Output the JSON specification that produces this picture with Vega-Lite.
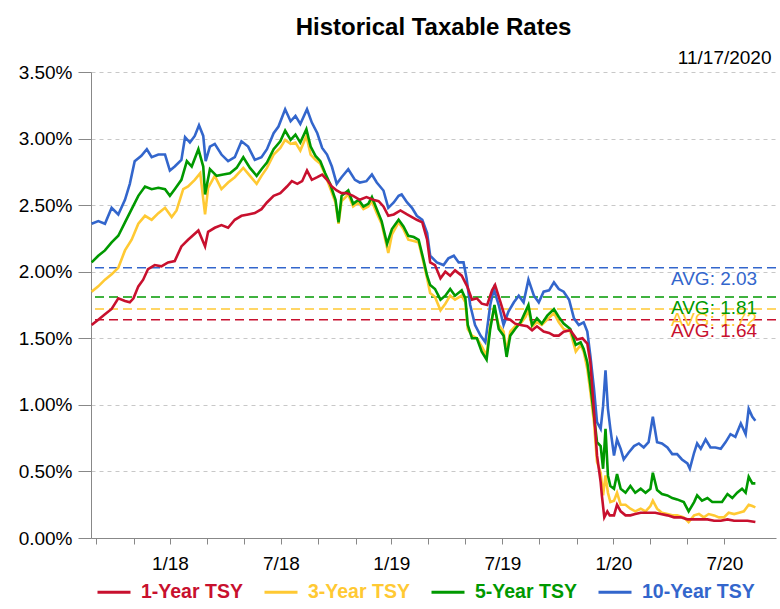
{
  "$schema": "https://vega.github.io/schema/vega-lite/v6.json",
  "width": 685,
  "height": 466,
  "autosize": {"type": "none"},
  "padding": {"left": 91, "top": 72, "right": 4, "bottom": 71},
  "background": "white",
  "config": {
    "font": "Liberation Sans",
    "view": {"stroke": null},
    "axis": {"labelFont": "Liberation Sans", "titleFont": "Liberation Sans"}
  },
  "title": {"text": "Historical Taxable Rates", "fontSize": 24, "fontWeight": "bold", "anchor": "middle", "color": "#000", "offset": 8, "font": "Liberation Sans"},
  "datasets": {
    "avg": [
      {"s": "10-Year TSY", "a": 2.03, "t": "AVG: 2.03"},
      {"s": "3-Year TSY", "a": 1.72, "t": "AVG: 1.72"},
      {"s": "5-Year TSY", "a": 1.81, "t": "AVG: 1.81"},
      {"s": "1-Year TSY", "a": 1.64, "t": "AVG: 1.64"}
    ],
    "rates": [
      {"d":"2017-11-23","s":"10-Year TSY","v":2.36},{"d":"2017-12-04","s":"10-Year TSY","v":2.38},{"d":"2017-12-15","s":"10-Year TSY","v":2.36},{"d":"2017-12-26","s":"10-Year TSY","v":2.48},{"d":"2018-01-06","s":"10-Year TSY","v":2.43},{"d":"2018-01-17","s":"10-Year TSY","v":2.54},{"d":"2018-01-25","s":"10-Year TSY","v":2.66},{"d":"2018-02-02","s":"10-Year TSY","v":2.83},{"d":"2018-02-13","s":"10-Year TSY","v":2.87},{"d":"2018-02-22","s":"10-Year TSY","v":2.92},{"d":"2018-03-02","s":"10-Year TSY","v":2.86},{"d":"2018-03-13","s":"10-Year TSY","v":2.88},{"d":"2018-03-24","s":"10-Year TSY","v":2.88},{"d":"2018-04-01","s":"10-Year TSY","v":2.76},{"d":"2018-04-09","s":"10-Year TSY","v":2.79},{"d":"2018-04-20","s":"10-Year TSY","v":2.84},{"d":"2018-04-26","s":"10-Year TSY","v":3.01},{"d":"2018-05-04","s":"10-Year TSY","v":2.97},{"d":"2018-05-12","s":"10-Year TSY","v":3.02},{"d":"2018-05-19","s":"10-Year TSY","v":3.10},{"d":"2018-05-26","s":"10-Year TSY","v":3.02},{"d":"2018-05-30","s":"10-Year TSY","v":2.83},{"d":"2018-06-06","s":"10-Year TSY","v":2.94},{"d":"2018-06-14","s":"10-Year TSY","v":2.96},{"d":"2018-06-25","s":"10-Year TSY","v":2.88},{"d":"2018-07-06","s":"10-Year TSY","v":2.83},{"d":"2018-07-17","s":"10-Year TSY","v":2.86},{"d":"2018-07-28","s":"10-Year TSY","v":2.98},{"d":"2018-08-08","s":"10-Year TSY","v":2.94},{"d":"2018-08-19","s":"10-Year TSY","v":2.84},{"d":"2018-08-30","s":"10-Year TSY","v":2.86},{"d":"2018-09-08","s":"10-Year TSY","v":2.92},{"d":"2018-09-19","s":"10-Year TSY","v":3.04},{"d":"2018-09-27","s":"10-Year TSY","v":3.09},{"d":"2018-10-08","s":"10-Year TSY","v":3.22},{"d":"2018-10-17","s":"10-Year TSY","v":3.13},{"d":"2018-10-25","s":"10-Year TSY","v":3.17},{"d":"2018-11-02","s":"10-Year TSY","v":3.11},{"d":"2018-11-13","s":"10-Year TSY","v":3.22},{"d":"2018-11-21","s":"10-Year TSY","v":3.12},{"d":"2018-11-30","s":"10-Year TSY","v":3.04},{"d":"2018-12-08","s":"10-Year TSY","v":2.93},{"d":"2018-12-16","s":"10-Year TSY","v":2.88},{"d":"2018-12-24","s":"10-Year TSY","v":2.79},{"d":"2019-01-01","s":"10-Year TSY","v":2.66},{"d":"2019-01-09","s":"10-Year TSY","v":2.71},{"d":"2019-01-20","s":"10-Year TSY","v":2.77},{"d":"2019-01-31","s":"10-Year TSY","v":2.69},{"d":"2019-02-08","s":"10-Year TSY","v":2.67},{"d":"2019-02-19","s":"10-Year TSY","v":2.68},{"d":"2019-02-28","s":"10-Year TSY","v":2.73},{"d":"2019-03-08","s":"10-Year TSY","v":2.67},{"d":"2019-03-19","s":"10-Year TSY","v":2.61},{"d":"2019-03-27","s":"10-Year TSY","v":2.48},{"d":"2019-04-05","s":"10-Year TSY","v":2.52},{"d":"2019-04-13","s":"10-Year TSY","v":2.57},{"d":"2019-04-18","s":"10-Year TSY","v":2.58},{"d":"2019-04-27","s":"10-Year TSY","v":2.52},{"d":"2019-05-05","s":"10-Year TSY","v":2.48},{"d":"2019-05-13","s":"10-Year TSY","v":2.42},{"d":"2019-05-22","s":"10-Year TSY","v":2.39},{"d":"2019-05-30","s":"10-Year TSY","v":2.29},{"d":"2019-06-04","s":"10-Year TSY","v":2.12},{"d":"2019-06-15","s":"10-Year TSY","v":2.07},{"d":"2019-06-26","s":"10-Year TSY","v":2.05},{"d":"2019-07-04","s":"10-Year TSY","v":2.10},{"d":"2019-07-13","s":"10-Year TSY","v":2.12},{"d":"2019-07-21","s":"10-Year TSY","v":2.07},{"d":"2019-07-29","s":"10-Year TSY","v":2.07},{"d":"2019-08-03","s":"10-Year TSY","v":1.95},{"d":"2019-08-09","s":"10-Year TSY","v":1.75},{"d":"2019-08-17","s":"10-Year TSY","v":1.60},{"d":"2019-08-26","s":"10-Year TSY","v":1.52},{"d":"2019-09-03","s":"10-Year TSY","v":1.47},{"d":"2019-09-11","s":"10-Year TSY","v":1.75},{"d":"2019-09-17","s":"10-Year TSY","v":1.87},{"d":"2019-09-25","s":"10-Year TSY","v":1.75},{"d":"2019-10-03","s":"10-Year TSY","v":1.60},{"d":"2019-10-11","s":"10-Year TSY","v":1.70},{"d":"2019-10-20","s":"10-Year TSY","v":1.77},{"d":"2019-10-28","s":"10-Year TSY","v":1.82},{"d":"2019-11-05","s":"10-Year TSY","v":1.77},{"d":"2019-11-13","s":"10-Year TSY","v":1.94},{"d":"2019-11-22","s":"10-Year TSY","v":1.82},{"d":"2019-11-30","s":"10-Year TSY","v":1.77},{"d":"2019-12-08","s":"10-Year TSY","v":1.85},{"d":"2019-12-17","s":"10-Year TSY","v":1.86},{"d":"2019-12-25","s":"10-Year TSY","v":1.92},{"d":"2020-01-02","s":"10-Year TSY","v":1.87},{"d":"2020-01-10","s":"10-Year TSY","v":1.85},{"d":"2020-01-19","s":"10-Year TSY","v":1.79},{"d":"2020-01-27","s":"10-Year TSY","v":1.65},{"d":"2020-02-04","s":"10-Year TSY","v":1.60},{"d":"2020-02-12","s":"10-Year TSY","v":1.62},{"d":"2020-02-18","s":"10-Year TSY","v":1.55},{"d":"2020-02-23","s":"10-Year TSY","v":1.37},{"d":"2020-02-29","s":"10-Year TSY","v":1.12},{"d":"2020-03-05","s":"10-Year TSY","v":0.87},{"d":"2020-03-11","s":"10-Year TSY","v":0.82},{"d":"2020-03-15","s":"10-Year TSY","v":0.99},{"d":"2020-03-19","s":"10-Year TSY","v":1.26},{"d":"2020-03-23","s":"10-Year TSY","v":0.97},{"d":"2020-03-27","s":"10-Year TSY","v":0.82},{"d":"2020-04-02","s":"10-Year TSY","v":0.62},{"d":"2020-04-07","s":"10-Year TSY","v":0.74},{"d":"2020-04-13","s":"10-Year TSY","v":0.67},{"d":"2020-04-18","s":"10-Year TSY","v":0.59},{"d":"2020-04-26","s":"10-Year TSY","v":0.64},{"d":"2020-05-05","s":"10-Year TSY","v":0.69},{"d":"2020-05-13","s":"10-Year TSY","v":0.71},{"d":"2020-05-21","s":"10-Year TSY","v":0.68},{"d":"2020-05-29","s":"10-Year TSY","v":0.72},{"d":"2020-06-05","s":"10-Year TSY","v":0.91},{"d":"2020-06-12","s":"10-Year TSY","v":0.72},{"d":"2020-06-20","s":"10-Year TSY","v":0.71},{"d":"2020-06-29","s":"10-Year TSY","v":0.68},{"d":"2020-07-07","s":"10-Year TSY","v":0.63},{"d":"2020-07-15","s":"10-Year TSY","v":0.63},{"d":"2020-07-23","s":"10-Year TSY","v":0.59},{"d":"2020-08-01","s":"10-Year TSY","v":0.56},{"d":"2020-08-05","s":"10-Year TSY","v":0.52},{"d":"2020-08-12","s":"10-Year TSY","v":0.64},{"d":"2020-08-17","s":"10-Year TSY","v":0.71},{"d":"2020-08-23","s":"10-Year TSY","v":0.67},{"d":"2020-08-31","s":"10-Year TSY","v":0.74},{"d":"2020-09-08","s":"10-Year TSY","v":0.68},{"d":"2020-09-16","s":"10-Year TSY","v":0.68},{"d":"2020-09-25","s":"10-Year TSY","v":0.67},{"d":"2020-10-03","s":"10-Year TSY","v":0.72},{"d":"2020-10-11","s":"10-Year TSY","v":0.78},{"d":"2020-10-19","s":"10-Year TSY","v":0.76},{"d":"2020-10-28","s":"10-Year TSY","v":0.86},{"d":"2020-11-05","s":"10-Year TSY","v":0.78},{"d":"2020-11-10","s":"10-Year TSY","v":0.97},{"d":"2020-11-16","s":"10-Year TSY","v":0.91},{"d":"2020-11-21","s":"10-Year TSY","v":0.88},

      {"d":"2017-11-23","s":"3-Year TSY","v":1.85},{"d":"2017-12-04","s":"3-Year TSY","v":1.89},{"d":"2017-12-15","s":"3-Year TSY","v":1.94},{"d":"2017-12-26","s":"3-Year TSY","v":1.98},{"d":"2018-01-06","s":"3-Year TSY","v":2.03},{"d":"2018-01-17","s":"3-Year TSY","v":2.16},{"d":"2018-01-28","s":"3-Year TSY","v":2.24},{"d":"2018-02-08","s":"3-Year TSY","v":2.36},{"d":"2018-02-19","s":"3-Year TSY","v":2.42},{"d":"2018-03-02","s":"3-Year TSY","v":2.39},{"d":"2018-03-13","s":"3-Year TSY","v":2.44},{"d":"2018-03-24","s":"3-Year TSY","v":2.48},{"d":"2018-04-04","s":"3-Year TSY","v":2.41},{"d":"2018-04-12","s":"3-Year TSY","v":2.46},{"d":"2018-04-23","s":"3-Year TSY","v":2.62},{"d":"2018-05-01","s":"3-Year TSY","v":2.64},{"d":"2018-05-12","s":"3-Year TSY","v":2.69},{"d":"2018-05-21","s":"3-Year TSY","v":2.74},{"d":"2018-05-29","s":"3-Year TSY","v":2.43},{"d":"2018-06-03","s":"3-Year TSY","v":2.63},{"d":"2018-06-14","s":"3-Year TSY","v":2.72},{"d":"2018-06-25","s":"3-Year TSY","v":2.62},{"d":"2018-07-06","s":"3-Year TSY","v":2.67},{"d":"2018-07-17","s":"3-Year TSY","v":2.71},{"d":"2018-07-31","s":"3-Year TSY","v":2.78},{"d":"2018-08-11","s":"3-Year TSY","v":2.72},{"d":"2018-08-22","s":"3-Year TSY","v":2.66},{"d":"2018-08-30","s":"3-Year TSY","v":2.72},{"d":"2018-09-08","s":"3-Year TSY","v":2.78},{"d":"2018-09-19","s":"3-Year TSY","v":2.88},{"d":"2018-09-30","s":"3-Year TSY","v":2.93},{"d":"2018-10-08","s":"3-Year TSY","v":2.99},{"d":"2018-10-17","s":"3-Year TSY","v":2.96},{"d":"2018-10-25","s":"3-Year TSY","v":2.97},{"d":"2018-11-02","s":"3-Year TSY","v":2.91},{"d":"2018-11-12","s":"3-Year TSY","v":3.02},{"d":"2018-11-19","s":"3-Year TSY","v":2.88},{"d":"2018-11-27","s":"3-Year TSY","v":2.84},{"d":"2018-12-05","s":"3-Year TSY","v":2.81},{"d":"2018-12-13","s":"3-Year TSY","v":2.73},{"d":"2018-12-21","s":"3-Year TSY","v":2.63},{"d":"2018-12-30","s":"3-Year TSY","v":2.52},{"d":"2019-01-04","s":"3-Year TSY","v":2.36},{"d":"2019-01-09","s":"3-Year TSY","v":2.53},{"d":"2019-01-20","s":"3-Year TSY","v":2.58},{"d":"2019-01-28","s":"3-Year TSY","v":2.49},{"d":"2019-02-06","s":"3-Year TSY","v":2.52},{"d":"2019-02-14","s":"3-Year TSY","v":2.47},{"d":"2019-02-22","s":"3-Year TSY","v":2.49},{"d":"2019-02-28","s":"3-Year TSY","v":2.53},{"d":"2019-03-08","s":"3-Year TSY","v":2.44},{"d":"2019-03-16","s":"3-Year TSY","v":2.36},{"d":"2019-03-27","s":"3-Year TSY","v":2.14},{"d":"2019-04-02","s":"3-Year TSY","v":2.28},{"d":"2019-04-13","s":"3-Year TSY","v":2.37},{"d":"2019-04-21","s":"3-Year TSY","v":2.32},{"d":"2019-04-29","s":"3-Year TSY","v":2.24},{"d":"2019-05-08","s":"3-Year TSY","v":2.23},{"d":"2019-05-16","s":"3-Year TSY","v":2.22},{"d":"2019-05-24","s":"3-Year TSY","v":2.07},{"d":"2019-05-30","s":"3-Year TSY","v":1.95},{"d":"2019-06-04","s":"3-Year TSY","v":1.84},{"d":"2019-06-12","s":"3-Year TSY","v":1.81},{"d":"2019-06-21","s":"3-Year TSY","v":1.71},{"d":"2019-06-29","s":"3-Year TSY","v":1.76},{"d":"2019-07-07","s":"3-Year TSY","v":1.82},{"d":"2019-07-15","s":"3-Year TSY","v":1.79},{"d":"2019-07-26","s":"3-Year TSY","v":1.82},{"d":"2019-08-01","s":"3-Year TSY","v":1.77},{"d":"2019-08-05","s":"3-Year TSY","v":1.57},{"d":"2019-08-12","s":"3-Year TSY","v":1.52},{"d":"2019-08-20","s":"3-Year TSY","v":1.50},{"d":"2019-08-28","s":"3-Year TSY","v":1.44},{"d":"2019-09-05","s":"3-Year TSY","v":1.37},{"d":"2019-09-11","s":"3-Year TSY","v":1.60},{"d":"2019-09-18","s":"3-Year TSY","v":1.72},{"d":"2019-09-25","s":"3-Year TSY","v":1.60},{"d":"2019-10-03","s":"3-Year TSY","v":1.55},{"d":"2019-10-08","s":"3-Year TSY","v":1.40},{"d":"2019-10-14","s":"3-Year TSY","v":1.55},{"d":"2019-10-22","s":"3-Year TSY","v":1.59},{"d":"2019-10-31","s":"3-Year TSY","v":1.61},{"d":"2019-11-08","s":"3-Year TSY","v":1.66},{"d":"2019-11-13","s":"3-Year TSY","v":1.71},{"d":"2019-11-19","s":"3-Year TSY","v":1.59},{"d":"2019-11-27","s":"3-Year TSY","v":1.62},{"d":"2019-12-05","s":"3-Year TSY","v":1.60},{"d":"2019-12-14","s":"3-Year TSY","v":1.64},{"d":"2019-12-25","s":"3-Year TSY","v":1.69},{"d":"2020-01-02","s":"3-Year TSY","v":1.62},{"d":"2020-01-10","s":"3-Year TSY","v":1.57},{"d":"2020-01-21","s":"3-Year TSY","v":1.55},{"d":"2020-01-30","s":"3-Year TSY","v":1.40},{"d":"2020-02-07","s":"3-Year TSY","v":1.45},{"d":"2020-02-12","s":"3-Year TSY","v":1.40},{"d":"2020-02-18","s":"3-Year TSY","v":1.27},{"d":"2020-02-23","s":"3-Year TSY","v":1.10},{"d":"2020-02-29","s":"3-Year TSY","v":0.87},{"d":"2020-03-05","s":"3-Year TSY","v":0.57},{"d":"2020-03-11","s":"3-Year TSY","v":0.49},{"d":"2020-03-15","s":"3-Year TSY","v":0.32},{"d":"2020-03-19","s":"3-Year TSY","v":0.47},{"d":"2020-03-23","s":"3-Year TSY","v":0.34},{"d":"2020-03-27","s":"3-Year TSY","v":0.27},{"d":"2020-04-02","s":"3-Year TSY","v":0.28},{"d":"2020-04-07","s":"3-Year TSY","v":0.34},{"d":"2020-04-13","s":"3-Year TSY","v":0.25},{"d":"2020-04-21","s":"3-Year TSY","v":0.25},{"d":"2020-04-29","s":"3-Year TSY","v":0.22},{"d":"2020-05-07","s":"3-Year TSY","v":0.20},{"d":"2020-05-16","s":"3-Year TSY","v":0.22},{"d":"2020-05-24","s":"3-Year TSY","v":0.20},{"d":"2020-06-01","s":"3-Year TSY","v":0.24},{"d":"2020-06-05","s":"3-Year TSY","v":0.28},{"d":"2020-06-12","s":"3-Year TSY","v":0.22},{"d":"2020-06-20","s":"3-Year TSY","v":0.19},{"d":"2020-06-29","s":"3-Year TSY","v":0.18},{"d":"2020-07-07","s":"3-Year TSY","v":0.17},{"d":"2020-07-15","s":"3-Year TSY","v":0.17},{"d":"2020-07-26","s":"3-Year TSY","v":0.155},{"d":"2020-08-03","s":"3-Year TSY","v":0.12},{"d":"2020-08-12","s":"3-Year TSY","v":0.17},{"d":"2020-08-20","s":"3-Year TSY","v":0.18},{"d":"2020-08-28","s":"3-Year TSY","v":0.155},{"d":"2020-09-05","s":"3-Year TSY","v":0.18},{"d":"2020-09-14","s":"3-Year TSY","v":0.17},{"d":"2020-09-22","s":"3-Year TSY","v":0.155},{"d":"2020-09-30","s":"3-Year TSY","v":0.155},{"d":"2020-10-08","s":"3-Year TSY","v":0.19},{"d":"2020-10-17","s":"3-Year TSY","v":0.18},{"d":"2020-10-25","s":"3-Year TSY","v":0.19},{"d":"2020-11-02","s":"3-Year TSY","v":0.20},{"d":"2020-11-10","s":"3-Year TSY","v":0.25},{"d":"2020-11-16","s":"3-Year TSY","v":0.24},{"d":"2020-11-21","s":"3-Year TSY","v":0.23},

      {"d":"2017-11-23","s":"5-Year TSY","v":2.07},{"d":"2017-12-04","s":"5-Year TSY","v":2.12},{"d":"2017-12-15","s":"5-Year TSY","v":2.16},{"d":"2017-12-26","s":"5-Year TSY","v":2.22},{"d":"2018-01-06","s":"5-Year TSY","v":2.27},{"d":"2018-01-17","s":"5-Year TSY","v":2.37},{"d":"2018-01-28","s":"5-Year TSY","v":2.47},{"d":"2018-02-08","s":"5-Year TSY","v":2.57},{"d":"2018-02-19","s":"5-Year TSY","v":2.64},{"d":"2018-03-02","s":"5-Year TSY","v":2.62},{"d":"2018-03-13","s":"5-Year TSY","v":2.63},{"d":"2018-03-24","s":"5-Year TSY","v":2.62},{"d":"2018-04-01","s":"5-Year TSY","v":2.57},{"d":"2018-04-09","s":"5-Year TSY","v":2.62},{"d":"2018-04-20","s":"5-Year TSY","v":2.69},{"d":"2018-04-29","s":"5-Year TSY","v":2.83},{"d":"2018-05-07","s":"5-Year TSY","v":2.79},{"d":"2018-05-18","s":"5-Year TSY","v":2.92},{"d":"2018-05-26","s":"5-Year TSY","v":2.79},{"d":"2018-05-29","s":"5-Year TSY","v":2.58},{"d":"2018-06-06","s":"5-Year TSY","v":2.77},{"d":"2018-06-17","s":"5-Year TSY","v":2.72},{"d":"2018-06-28","s":"5-Year TSY","v":2.73},{"d":"2018-07-09","s":"5-Year TSY","v":2.74},{"d":"2018-07-20","s":"5-Year TSY","v":2.78},{"d":"2018-07-31","s":"5-Year TSY","v":2.86},{"d":"2018-08-11","s":"5-Year TSY","v":2.78},{"d":"2018-08-22","s":"5-Year TSY","v":2.72},{"d":"2018-08-30","s":"5-Year TSY","v":2.77},{"d":"2018-09-08","s":"5-Year TSY","v":2.82},{"d":"2018-09-19","s":"5-Year TSY","v":2.92},{"d":"2018-09-30","s":"5-Year TSY","v":2.98},{"d":"2018-10-08","s":"5-Year TSY","v":3.06},{"d":"2018-10-17","s":"5-Year TSY","v":2.99},{"d":"2018-10-25","s":"5-Year TSY","v":3.03},{"d":"2018-11-02","s":"5-Year TSY","v":2.97},{"d":"2018-11-12","s":"5-Year TSY","v":3.07},{"d":"2018-11-19","s":"5-Year TSY","v":2.94},{"d":"2018-11-27","s":"5-Year TSY","v":2.87},{"d":"2018-12-05","s":"5-Year TSY","v":2.83},{"d":"2018-12-13","s":"5-Year TSY","v":2.74},{"d":"2018-12-21","s":"5-Year TSY","v":2.66},{"d":"2018-12-30","s":"5-Year TSY","v":2.54},{"d":"2019-01-04","s":"5-Year TSY","v":2.37},{"d":"2019-01-09","s":"5-Year TSY","v":2.57},{"d":"2019-01-20","s":"5-Year TSY","v":2.61},{"d":"2019-01-28","s":"5-Year TSY","v":2.51},{"d":"2019-02-06","s":"5-Year TSY","v":2.54},{"d":"2019-02-14","s":"5-Year TSY","v":2.49},{"d":"2019-02-22","s":"5-Year TSY","v":2.51},{"d":"2019-02-28","s":"5-Year TSY","v":2.56},{"d":"2019-03-08","s":"5-Year TSY","v":2.47},{"d":"2019-03-16","s":"5-Year TSY","v":2.38},{"d":"2019-03-25","s":"5-Year TSY","v":2.21},{"d":"2019-04-02","s":"5-Year TSY","v":2.32},{"d":"2019-04-13","s":"5-Year TSY","v":2.39},{"d":"2019-04-21","s":"5-Year TSY","v":2.34},{"d":"2019-04-29","s":"5-Year TSY","v":2.27},{"d":"2019-05-08","s":"5-Year TSY","v":2.26},{"d":"2019-05-16","s":"5-Year TSY","v":2.24},{"d":"2019-05-24","s":"5-Year TSY","v":2.09},{"d":"2019-05-30","s":"5-Year TSY","v":1.97},{"d":"2019-06-04","s":"5-Year TSY","v":1.90},{"d":"2019-06-12","s":"5-Year TSY","v":1.87},{"d":"2019-06-21","s":"5-Year TSY","v":1.79},{"d":"2019-06-29","s":"5-Year TSY","v":1.82},{"d":"2019-07-07","s":"5-Year TSY","v":1.87},{"d":"2019-07-15","s":"5-Year TSY","v":1.82},{"d":"2019-07-26","s":"5-Year TSY","v":1.86},{"d":"2019-08-01","s":"5-Year TSY","v":1.80},{"d":"2019-08-05","s":"5-Year TSY","v":1.60},{"d":"2019-08-12","s":"5-Year TSY","v":1.50},{"d":"2019-08-20","s":"5-Year TSY","v":1.50},{"d":"2019-08-28","s":"5-Year TSY","v":1.40},{"d":"2019-09-05","s":"5-Year TSY","v":1.34},{"d":"2019-09-11","s":"5-Year TSY","v":1.57},{"d":"2019-09-18","s":"5-Year TSY","v":1.75},{"d":"2019-09-25","s":"5-Year TSY","v":1.57},{"d":"2019-10-03","s":"5-Year TSY","v":1.52},{"d":"2019-10-08","s":"5-Year TSY","v":1.36},{"d":"2019-10-14","s":"5-Year TSY","v":1.52},{"d":"2019-10-22","s":"5-Year TSY","v":1.57},{"d":"2019-10-31","s":"5-Year TSY","v":1.62},{"d":"2019-11-08","s":"5-Year TSY","v":1.70},{"d":"2019-11-13","s":"5-Year TSY","v":1.75},{"d":"2019-11-19","s":"5-Year TSY","v":1.60},{"d":"2019-11-27","s":"5-Year TSY","v":1.65},{"d":"2019-12-05","s":"5-Year TSY","v":1.61},{"d":"2019-12-14","s":"5-Year TSY","v":1.67},{"d":"2019-12-25","s":"5-Year TSY","v":1.72},{"d":"2020-01-02","s":"5-Year TSY","v":1.66},{"d":"2020-01-10","s":"5-Year TSY","v":1.61},{"d":"2020-01-21","s":"5-Year TSY","v":1.57},{"d":"2020-01-30","s":"5-Year TSY","v":1.45},{"d":"2020-02-07","s":"5-Year TSY","v":1.47},{"d":"2020-02-12","s":"5-Year TSY","v":1.42},{"d":"2020-02-18","s":"5-Year TSY","v":1.32},{"d":"2020-02-23","s":"5-Year TSY","v":1.15},{"d":"2020-02-29","s":"5-Year TSY","v":0.92},{"d":"2020-03-05","s":"5-Year TSY","v":0.72},{"d":"2020-03-11","s":"5-Year TSY","v":0.69},{"d":"2020-03-15","s":"5-Year TSY","v":0.52},{"d":"2020-03-19","s":"5-Year TSY","v":0.82},{"d":"2020-03-23","s":"5-Year TSY","v":0.47},{"d":"2020-03-27","s":"5-Year TSY","v":0.39},{"d":"2020-04-02","s":"5-Year TSY","v":0.37},{"d":"2020-04-07","s":"5-Year TSY","v":0.48},{"d":"2020-04-13","s":"5-Year TSY","v":0.37},{"d":"2020-04-21","s":"5-Year TSY","v":0.34},{"d":"2020-04-29","s":"5-Year TSY","v":0.39},{"d":"2020-05-07","s":"5-Year TSY","v":0.34},{"d":"2020-05-16","s":"5-Year TSY","v":0.37},{"d":"2020-05-24","s":"5-Year TSY","v":0.34},{"d":"2020-06-01","s":"5-Year TSY","v":0.37},{"d":"2020-06-05","s":"5-Year TSY","v":0.49},{"d":"2020-06-12","s":"5-Year TSY","v":0.36},{"d":"2020-06-20","s":"5-Year TSY","v":0.33},{"d":"2020-06-29","s":"5-Year TSY","v":0.32},{"d":"2020-07-07","s":"5-Year TSY","v":0.30},{"d":"2020-07-15","s":"5-Year TSY","v":0.29},{"d":"2020-07-26","s":"5-Year TSY","v":0.27},{"d":"2020-08-03","s":"5-Year TSY","v":0.20},{"d":"2020-08-12","s":"5-Year TSY","v":0.27},{"d":"2020-08-17","s":"5-Year TSY","v":0.32},{"d":"2020-08-25","s":"5-Year TSY","v":0.28},{"d":"2020-09-03","s":"5-Year TSY","v":0.30},{"d":"2020-09-11","s":"5-Year TSY","v":0.27},{"d":"2020-09-19","s":"5-Year TSY","v":0.27},{"d":"2020-09-27","s":"5-Year TSY","v":0.27},{"d":"2020-10-06","s":"5-Year TSY","v":0.33},{"d":"2020-10-14","s":"5-Year TSY","v":0.30},{"d":"2020-10-22","s":"5-Year TSY","v":0.34},{"d":"2020-10-30","s":"5-Year TSY","v":0.37},{"d":"2020-11-05","s":"5-Year TSY","v":0.34},{"d":"2020-11-10","s":"5-Year TSY","v":0.46},{"d":"2020-11-16","s":"5-Year TSY","v":0.41},{"d":"2020-11-21","s":"5-Year TSY","v":0.41},

      {"d":"2017-11-23","s":"1-Year TSY","v":1.60},{"d":"2017-12-04","s":"1-Year TSY","v":1.64},{"d":"2017-12-15","s":"1-Year TSY","v":1.68},{"d":"2017-12-26","s":"1-Year TSY","v":1.72},{"d":"2018-01-06","s":"1-Year TSY","v":1.80},{"d":"2018-01-17","s":"1-Year TSY","v":1.78},{"d":"2018-01-25","s":"1-Year TSY","v":1.77},{"d":"2018-01-31","s":"1-Year TSY","v":1.80},{"d":"2018-02-08","s":"1-Year TSY","v":1.89},{"d":"2018-02-16","s":"1-Year TSY","v":1.94},{"d":"2018-02-24","s":"1-Year TSY","v":2.02},{"d":"2018-03-07","s":"1-Year TSY","v":2.05},{"d":"2018-03-18","s":"1-Year TSY","v":2.04},{"d":"2018-03-29","s":"1-Year TSY","v":2.07},{"d":"2018-04-09","s":"1-Year TSY","v":2.08},{"d":"2018-04-20","s":"1-Year TSY","v":2.19},{"d":"2018-05-01","s":"1-Year TSY","v":2.24},{"d":"2018-05-18","s":"1-Year TSY","v":2.31},{"d":"2018-05-29","s":"1-Year TSY","v":2.19},{"d":"2018-06-03","s":"1-Year TSY","v":2.30},{"d":"2018-06-14","s":"1-Year TSY","v":2.33},{"d":"2018-06-25","s":"1-Year TSY","v":2.35},{"d":"2018-07-06","s":"1-Year TSY","v":2.33},{"d":"2018-07-17","s":"1-Year TSY","v":2.39},{"d":"2018-07-28","s":"1-Year TSY","v":2.42},{"d":"2018-08-08","s":"1-Year TSY","v":2.43},{"d":"2018-08-19","s":"1-Year TSY","v":2.44},{"d":"2018-08-30","s":"1-Year TSY","v":2.47},{"d":"2018-09-08","s":"1-Year TSY","v":2.52},{"d":"2018-09-19","s":"1-Year TSY","v":2.57},{"d":"2018-09-30","s":"1-Year TSY","v":2.59},{"d":"2018-10-11","s":"1-Year TSY","v":2.64},{"d":"2018-10-19","s":"1-Year TSY","v":2.68},{"d":"2018-10-28","s":"1-Year TSY","v":2.66},{"d":"2018-11-05","s":"1-Year TSY","v":2.68},{"d":"2018-11-13","s":"1-Year TSY","v":2.76},{"d":"2018-11-21","s":"1-Year TSY","v":2.69},{"d":"2018-11-30","s":"1-Year TSY","v":2.71},{"d":"2018-12-08","s":"1-Year TSY","v":2.73},{"d":"2018-12-16","s":"1-Year TSY","v":2.69},{"d":"2018-12-24","s":"1-Year TSY","v":2.64},{"d":"2019-01-01","s":"1-Year TSY","v":2.61},{"d":"2019-01-09","s":"1-Year TSY","v":2.59},{"d":"2019-01-17","s":"1-Year TSY","v":2.59},{"d":"2019-01-28","s":"1-Year TSY","v":2.57},{"d":"2019-02-08","s":"1-Year TSY","v":2.54},{"d":"2019-02-19","s":"1-Year TSY","v":2.56},{"d":"2019-03-02","s":"1-Year TSY","v":2.54},{"d":"2019-03-11","s":"1-Year TSY","v":2.53},{"d":"2019-03-19","s":"1-Year TSY","v":2.49},{"d":"2019-03-27","s":"1-Year TSY","v":2.42},{"d":"2019-04-05","s":"1-Year TSY","v":2.43},{"d":"2019-04-16","s":"1-Year TSY","v":2.46},{"d":"2019-04-27","s":"1-Year TSY","v":2.43},{"d":"2019-05-05","s":"1-Year TSY","v":2.41},{"d":"2019-05-13","s":"1-Year TSY","v":2.39},{"d":"2019-05-22","s":"1-Year TSY","v":2.37},{"d":"2019-05-30","s":"1-Year TSY","v":2.24},{"d":"2019-06-04","s":"1-Year TSY","v":2.07},{"d":"2019-06-12","s":"1-Year TSY","v":2.05},{"d":"2019-06-21","s":"1-Year TSY","v":1.95},{"d":"2019-06-29","s":"1-Year TSY","v":2.00},{"d":"2019-07-07","s":"1-Year TSY","v":1.97},{"d":"2019-07-15","s":"1-Year TSY","v":2.01},{"d":"2019-07-26","s":"1-Year TSY","v":1.97},{"d":"2019-08-04","s":"1-Year TSY","v":1.89},{"d":"2019-08-12","s":"1-Year TSY","v":1.79},{"d":"2019-08-20","s":"1-Year TSY","v":1.80},{"d":"2019-08-28","s":"1-Year TSY","v":1.76},{"d":"2019-09-06","s":"1-Year TSY","v":1.75},{"d":"2019-09-14","s":"1-Year TSY","v":1.86},{"d":"2019-09-19","s":"1-Year TSY","v":1.90},{"d":"2019-09-28","s":"1-Year TSY","v":1.77},{"d":"2019-10-06","s":"1-Year TSY","v":1.65},{"d":"2019-10-14","s":"1-Year TSY","v":1.64},{"d":"2019-10-22","s":"1-Year TSY","v":1.61},{"d":"2019-10-31","s":"1-Year TSY","v":1.60},{"d":"2019-11-11","s":"1-Year TSY","v":1.59},{"d":"2019-11-19","s":"1-Year TSY","v":1.56},{"d":"2019-11-27","s":"1-Year TSY","v":1.59},{"d":"2019-12-08","s":"1-Year TSY","v":1.55},{"d":"2019-12-17","s":"1-Year TSY","v":1.54},{"d":"2019-12-25","s":"1-Year TSY","v":1.52},{"d":"2020-01-02","s":"1-Year TSY","v":1.52},{"d":"2020-01-10","s":"1-Year TSY","v":1.55},{"d":"2020-01-21","s":"1-Year TSY","v":1.56},{"d":"2020-02-01","s":"1-Year TSY","v":1.49},{"d":"2020-02-10","s":"1-Year TSY","v":1.50},{"d":"2020-02-18","s":"1-Year TSY","v":1.46},{"d":"2020-02-23","s":"1-Year TSY","v":1.32},{"d":"2020-02-29","s":"1-Year TSY","v":0.95},{"d":"2020-03-05","s":"1-Year TSY","v":0.62},{"d":"2020-03-11","s":"1-Year TSY","v":0.42},{"d":"2020-03-13","s":"1-Year TSY","v":0.32},{"d":"2020-03-17","s":"1-Year TSY","v":0.155},{"d":"2020-03-22","s":"1-Year TSY","v":0.20},{"d":"2020-03-26","s":"1-Year TSY","v":0.17},{"d":"2020-04-02","s":"1-Year TSY","v":0.17},{"d":"2020-04-07","s":"1-Year TSY","v":0.25},{"d":"2020-04-13","s":"1-Year TSY","v":0.20},{"d":"2020-04-21","s":"1-Year TSY","v":0.17},{"d":"2020-04-29","s":"1-Year TSY","v":0.17},{"d":"2020-05-07","s":"1-Year TSY","v":0.18},{"d":"2020-05-16","s":"1-Year TSY","v":0.19},{"d":"2020-05-24","s":"1-Year TSY","v":0.19},{"d":"2020-06-01","s":"1-Year TSY","v":0.19},{"d":"2020-06-09","s":"1-Year TSY","v":0.19},{"d":"2020-06-18","s":"1-Year TSY","v":0.18},{"d":"2020-06-29","s":"1-Year TSY","v":0.17},{"d":"2020-07-10","s":"1-Year TSY","v":0.155},{"d":"2020-07-21","s":"1-Year TSY","v":0.155},{"d":"2020-08-01","s":"1-Year TSY","v":0.14},{"d":"2020-08-12","s":"1-Year TSY","v":0.14},{"d":"2020-08-23","s":"1-Year TSY","v":0.14},{"d":"2020-09-03","s":"1-Year TSY","v":0.14},{"d":"2020-09-14","s":"1-Year TSY","v":0.13},{"d":"2020-09-25","s":"1-Year TSY","v":0.13},{"d":"2020-10-06","s":"1-Year TSY","v":0.14},{"d":"2020-10-17","s":"1-Year TSY","v":0.13},{"d":"2020-10-28","s":"1-Year TSY","v":0.13},{"d":"2020-11-08","s":"1-Year TSY","v":0.13},{"d":"2020-11-21","s":"1-Year TSY","v":0.12}
    ]
  },
  "layer": [
    {
      "data": {"name": "avg"},
      "mark": {"type": "rule", "strokeDash": [9, 5], "strokeWidth": 1.5},
      "encoding": {
        "y": {"field": "a", "type": "quantitative", "scale": {"domain": [0, 3.5], "nice": false}},
        "stroke": {
          "field": "s", "type": "nominal", "legend": null,
          "scale": {"domain": ["10-Year TSY", "5-Year TSY", "3-Year TSY", "1-Year TSY"], "range": ["#3366CC", "#009900", "#FFC933", "#C8102E"]}
        }
      }
    },
    {
      "data": {"name": "rates"},
      "mark": {"type": "line", "strokeWidth": 2.6, "clip": true},
      "encoding": {
        "x": {
          "field": "d", "type": "temporal",
          "scale": {"type": "utc", "domain": [{"year": 2017, "month": 11, "date": 22, "utc": true}, {"year": 2020, "month": 12, "date": 25, "utc": true}]},
          "axis": {
            "title": null, "grid": false,
            "values": [
              {"year":2017,"month":12,"date":1,"utc":true},
              {"year":2018,"month":1,"date":1,"utc":true},{"year":2018,"month":2,"date":1,"utc":true},{"year":2018,"month":3,"date":1,"utc":true},{"year":2018,"month":4,"date":1,"utc":true},{"year":2018,"month":5,"date":1,"utc":true},{"year":2018,"month":6,"date":1,"utc":true},{"year":2018,"month":7,"date":1,"utc":true},{"year":2018,"month":8,"date":1,"utc":true},{"year":2018,"month":9,"date":1,"utc":true},{"year":2018,"month":10,"date":1,"utc":true},{"year":2018,"month":11,"date":1,"utc":true},{"year":2018,"month":12,"date":1,"utc":true},
              {"year":2019,"month":1,"date":1,"utc":true},{"year":2019,"month":2,"date":1,"utc":true},{"year":2019,"month":3,"date":1,"utc":true},{"year":2019,"month":4,"date":1,"utc":true},{"year":2019,"month":5,"date":1,"utc":true},{"year":2019,"month":6,"date":1,"utc":true},{"year":2019,"month":7,"date":1,"utc":true},{"year":2019,"month":8,"date":1,"utc":true},{"year":2019,"month":9,"date":1,"utc":true},{"year":2019,"month":10,"date":1,"utc":true},{"year":2019,"month":11,"date":1,"utc":true},{"year":2019,"month":12,"date":1,"utc":true},
              {"year":2020,"month":1,"date":1,"utc":true},{"year":2020,"month":2,"date":1,"utc":true},{"year":2020,"month":3,"date":1,"utc":true},{"year":2020,"month":4,"date":1,"utc":true},{"year":2020,"month":5,"date":1,"utc":true},{"year":2020,"month":6,"date":1,"utc":true},{"year":2020,"month":7,"date":1,"utc":true},{"year":2020,"month":8,"date":1,"utc":true},{"year":2020,"month":9,"date":1,"utc":true},{"year":2020,"month":10,"date":1,"utc":true},{"year":2020,"month":11,"date":1,"utc":true}
            ],
            "labelExpr": "utcmonth(datum.value) == 3 ? '1/' + utcFormat(datum.value, '%y') : (utcmonth(datum.value) == 9 ? '7/' + utcFormat(datum.value, '%y') : '')",
            "tickSize": {"condition": {"test": "utcmonth(datum.value) == 0 || utcmonth(datum.value) == 6", "value": 12}, "value": 6},
            "labelPadding": 10,
            "labelFontSize": 19,
            "labelColor": "#000",
            "labelOverlap": false,
            "labelFlush": false,
            "domainColor": "#888",
            "tickColor": "#888"
          }
        },
        "y": {
          "field": "v", "type": "quantitative",
          "scale": {"domain": [0, 3.5], "nice": false},
          "axis": {
            "values": [0, 0.25, 0.5, 0.75, 1, 1.25, 1.5, 1.75, 2, 2.25, 2.5, 2.75, 3, 3.25, 3.5],
            "labelExpr": "format(datum.value, '.2f') + '%'",
            "tickSize": 13, "labelPadding": 6, "labelFontSize": 19, "labelColor": "#000",
            "domainColor": "#888", "tickColor": "#888",
            "grid": true, "gridColor": "#c8c8c8", "gridDash": [4, 4], "gridWidth": 1,
            "title": "11/17/2020", "titleAngle": 0, "titleAlign": "right", "titleBaseline": "middle",
            "titleX": 680, "titleY": -15, "titleFontSize": 19, "titleFontWeight": "normal", "titleColor": "#000"
          }
        },
        "color": {
          "field": "s", "type": "nominal",
          "scale": {"domain": ["1-Year TSY", "3-Year TSY", "5-Year TSY", "10-Year TSY"], "range": ["#C8102E", "#FFC933", "#009900", "#3366CC"]},
          "legend": {
            "title": null, "orient": "none", "legendX": 5, "legendY": 502, "direction": "horizontal", "columns": 4,
            "gridAlign": "all", "symbolType": "stroke", "symbolSize": 1089, "symbolStrokeWidth": 3,
            "labelFontSize": 19.5, "labelFontWeight": "bold", "labelOffset": 9, "columnPadding": 4, "labelLimit": 0,
            "labelFont": "Liberation Sans",
            "encode": {"labels": {"update": {"fill": {"scale": "color", "field": "value"}}}}
          }
        }
      }
    },
    {
      "data": {"name": "avg"},
      "mark": {"type": "text", "align": "right", "baseline": "middle", "dy": 11, "fontSize": 19, "font": "Liberation Sans"},
      "encoding": {
        "x": {"datum": {"year": 2020, "month": 11, "date": 24, "utc": true}, "type": "temporal"},
        "y": {"field": "a", "type": "quantitative"},
        "text": {"field": "t"},
        "fill": {
          "field": "s", "type": "nominal", "legend": null,
          "scale": {"domain": ["10-Year TSY", "5-Year TSY", "3-Year TSY", "1-Year TSY"], "range": ["#3366CC", "#009900", "#FFC933", "#C8102E"]}
        }
      }
    }
  ]
}
